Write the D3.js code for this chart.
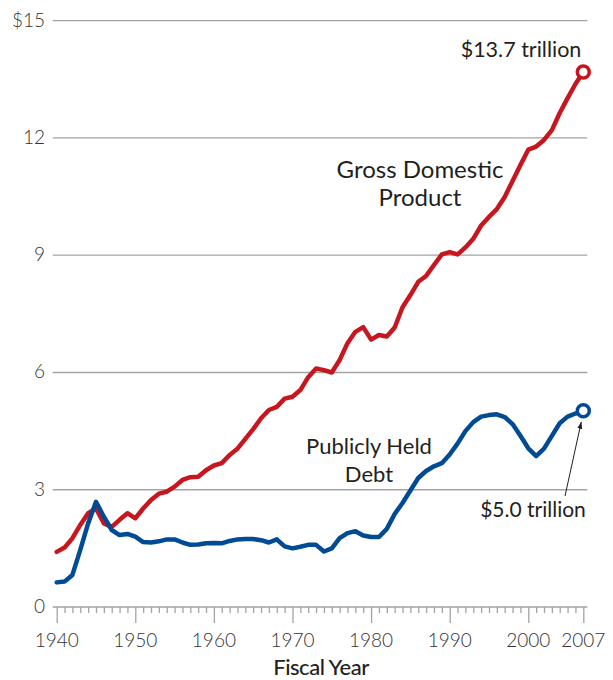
<!DOCTYPE html>
<html>
<head>
<meta charset="utf-8">
<script src="https://cdn.jsdelivr.net/npm/d3@7"></script>
<style>
  body { margin: 0; background: #fff; }
  text { font-family: Lato, "Open Sans", sans-serif; fill: #231f20; }
  .tick-label { font-weight: 300; font-size: 19px; fill: #333; }
  .note { font-weight: 400; }
</style>
</head>
<body>
<div id="chart"></div>
<script>
var years = d3.range(1940, 2008);

// real GDP, trillions of 2007 dollars
var gdpValues = [
  1.41, 1.52, 1.76, 2.10, 2.40, 2.52, 2.14, 2.05, 2.23, 2.40,
  2.27, 2.52, 2.74, 2.90, 2.95, 3.08, 3.25, 3.32, 3.33, 3.50,
  3.62, 3.68, 3.89, 4.05, 4.30, 4.55, 4.83, 5.04, 5.12, 5.33,
  5.38, 5.55, 5.88, 6.10, 6.06, 6.00, 6.32, 6.75, 7.04, 7.16,
  6.84, 6.96, 6.92, 7.15, 7.67, 7.98, 8.32, 8.47, 8.75, 9.02,
  9.08, 9.02, 9.20, 9.42, 9.76, 9.98, 10.18, 10.49, 10.90, 11.31,
  11.70, 11.78, 11.95, 12.20, 12.64, 13.02, 13.38, 13.69
];

// debt held by the public, trillions of 2007 dollars
var debtValues = [
  0.63, 0.65, 0.82, 1.46, 2.14, 2.69, 2.31, 1.97, 1.84, 1.87,
  1.80, 1.66, 1.65, 1.68, 1.73, 1.73, 1.65, 1.59, 1.60, 1.63,
  1.64, 1.63, 1.69, 1.73, 1.74, 1.74, 1.71, 1.65, 1.73, 1.55,
  1.50, 1.54, 1.59, 1.59, 1.42, 1.50, 1.76, 1.89, 1.94, 1.83,
  1.79, 1.79, 2.00, 2.38, 2.66, 2.98, 3.30, 3.48, 3.60, 3.68,
  3.90, 4.18, 4.50, 4.73, 4.87, 4.91, 4.93, 4.86, 4.68, 4.38,
  4.06, 3.86, 4.05, 4.38, 4.70, 4.87, 4.95, 5.02
];

var yTicks = [0, 3, 6, 9, 12, 15];
var yTickLabels = ["0", "3", "6", "9", "12", "$15"];
var xMajorTicks = [1940, 1950, 1960, 1970, 1980, 1990, 2000, 2007];

var width = 613, height = 680;

var x = d3.scaleLinear().domain([1940, 2007]).range([56.7, 583.3]);
var y = d3.scaleLinear().domain([0, 15]).range([607, 20.7]);

var svg = d3.select("#chart").append("svg")
    .attr("width", width)
    .attr("height", height);

// grid lines
svg.append("g").selectAll("line")
    .data(yTicks)
    .enter().append("line")
    .attr("x1", x(1940) - 4)
    .attr("x2", x(2007) + 4)
    .attr("y1", function (d) { return y(d); })
    .attr("y2", function (d) { return y(d); })
    .attr("stroke", "#a3a3a3")
    .attr("stroke-width", 1.3);

// y labels
svg.append("g").selectAll("text")
    .data(yTicks)
    .enter().append("text")
    .attr("class", "tick-label")
    .attr("x", 45)
    .attr("y", function (d) { return y(d) + 6; })
    .attr("text-anchor", "end")
    .text(function (d, i) { return yTickLabels[i]; });

// x axis ticks (every year, long ones on decades)
var xAxis = d3.axisBottom(x)
    .tickValues(years)
    .tickSize(6)
    .tickFormat("");
var gx = svg.append("g")
    .attr("transform", "translate(0," + y(0) + ")")
    .call(xAxis);
gx.select(".domain").remove();
gx.selectAll(".tick line")
    .attr("stroke", "#a3a3a3")
    .attr("stroke-width", 1.3)
    .attr("y2", function (d) { return xMajorTicks.indexOf(d) >= 0 ? 16 : 6; });

svg.append("g").selectAll("text")
    .data(xMajorTicks)
    .enter().append("text")
    .attr("class", "tick-label")
    .attr("x", function (d) { return x(d); })
    .attr("y", 647)
    .attr("text-anchor", "middle")
    .text(function (d) { return d; });

svg.append("text")
    .attr("x", 321)
    .attr("y", 675)
    .attr("text-anchor", "middle")
    .style("font-size", "22px")
    .style("font-weight", 500)
    .style("letter-spacing", "-0.5px")
    .text("Fiscal Year");

var line = d3.line()
    .x(function (d, i) { return x(years[i]); })
    .y(function (d) { return y(d); });

var series = [
    { values: gdpValues, color: "#c8161e" },
    { values: debtValues, color: "#004b93" }
];

series.forEach(function (s) {
    svg.append("path")
        .attr("d", line(s.values))
        .attr("fill", "none")
        .attr("stroke", s.color)
        .attr("stroke-width", 4.5)
        .attr("stroke-linejoin", "round")
        .attr("stroke-linecap", "round");

    svg.append("circle")
        .attr("cx", x(2007))
        .attr("cy", y(s.values[s.values.length - 1]))
        .attr("r", 6)
        .attr("fill", "#fff")
        .attr("stroke", s.color)
        .attr("stroke-width", 3.5);
});

// annotations
function note(lines, cx, cy, size, anchor) {
    var t = svg.append("text")
        .attr("class", "note")
        .style("font-size", size + "px")
        .attr("text-anchor", anchor || "middle");
    lines.forEach(function (l, i) {
        t.append("tspan").attr("x", cx).attr("y", cy + i * 28).text(l);
    });
}

note(["Gross Domestic", "Product"], 420, 178, 24);
note(["Publicly Held", "Debt"], 369, 454, 22);
note(["$13.7 trillion"], 521, 57, 21.5);
note(["$5.0 trillion"], 533, 517, 21);

// arrow to the debt end point
svg.append("defs").append("marker")
    .attr("id", "arrow")
    .attr("viewBox", "0 0 10 10")
    .attr("refX", 10).attr("refY", 5)
    .attr("markerWidth", 7).attr("markerHeight", 7)
    .attr("orient", "auto")
    .append("path")
    .attr("d", "M0,1.5L10,5L0,8.5z")
    .attr("fill", "#231f20");

svg.append("line")
    .attr("x1", 565)
    .attr("y1", 496)
    .attr("x2", x(2007) - 2)
    .attr("y2", y(5.02) + 11)
    .attr("stroke", "#231f20")
    .attr("stroke-width", 1)
    .attr("marker-end", "url(#arrow)");
</script>
</body>
</html>
